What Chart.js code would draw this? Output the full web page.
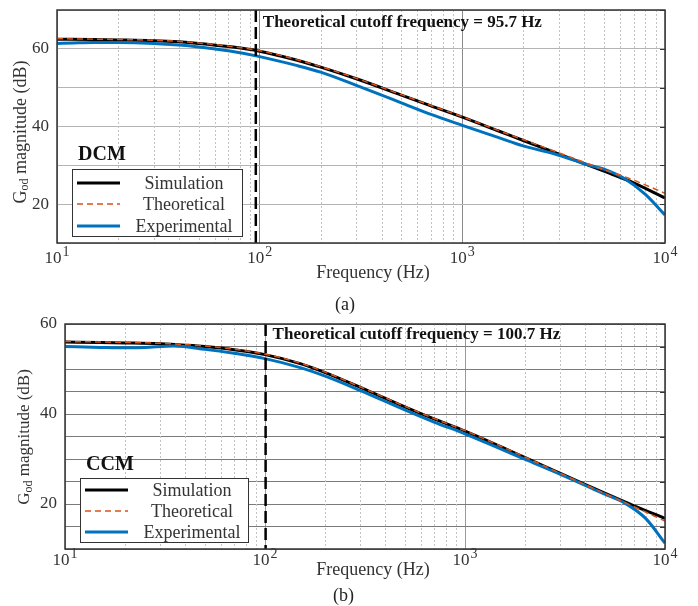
<!DOCTYPE html>
<html>
<head>
<meta charset="utf-8">
<script src="https://cdn.jsdelivr.net/npm/chart.js@4.4.1/dist/chart.umd.min.js"></script>
<style>
  html, body { margin: 0; padding: 0; background: #fff; }
  body { width: 698px; height: 606px; position: relative; overflow: hidden; }
  canvas { position: absolute; left: 0; }
  .cap { position: absolute; font-family: 'Liberation Serif', 'Times New Roman', serif; font-size: 18px; line-height: 18px; color: #222; }
</style>
</head>
<body>
<canvas id="dcm" width="698" height="290" style="top:0"></canvas>
<canvas id="ccm" width="698" height="300" style="top:300px"></canvas>
<div class="cap" style="left:335px;top:295px">(a)</div>
<div class="cap" style="left:333px;top:586px">(b)</div>
<script>
// decade ticks of the frequency axis
const xDecades = [10, 100, 1000, 10000]
const yLabels = [20, 40, 60]
const seriesNames = ['Simulation', 'Theoretical', 'Experimental']

// (a) DCM
const dcmFreq = [10, 15, 20, 30, 40, 50, 70, 100, 150, 200, 300, 500, 700, 1000, 1500, 2000, 3000, 5000, 7000, 10000]
const dcmSim = [62.5, 62.4, 62.3, 62.1, 61.8, 61.4, 60.6, 59.4, 57.2, 55.3, 52.3, 48.1, 45.3, 42.4, 38.9, 36.4, 32.9, 28.5, 25.5, 21.6]
const dcmTheo = [62.6, 62.5, 62.4, 62.2, 61.9, 61.5, 60.7, 59.5, 57.3, 55.4, 52.4, 48.2, 45.4, 42.5, 39.0, 36.6, 33.2, 28.9, 26.2, 22.8]
const dcmExpFreq = [10, 12, 15, 20, 30, 40, 50, 70, 100, 150, 200, 300, 500, 700, 1000, 1500, 2000, 3000, 4000, 5000, 6300, 8000, 10000]
const dcmExp = [61.4, 61.5, 61.6, 61.6, 61.4, 61.0, 60.5, 59.5, 58.0, 55.8, 54.0, 50.6, 46.1, 43.1, 40.3, 37.2, 35.0, 32.6, 30.4, 29.0, 26.6, 22.5, 17.2]

// (b) CCM
const ccmFreq = [10, 15, 20, 30, 40, 50, 70, 100, 150, 200, 300, 500, 700, 1000, 1500, 2000, 3000, 5000, 7000, 10000]
const ccmSim = [56.0, 55.9, 55.8, 55.6, 55.3, 55.0, 54.3, 53.2, 51.2, 49.2, 45.9, 41.6, 38.9, 36.2, 32.8, 30.3, 26.8, 22.4, 19.6, 16.8]
const ccmTheo = [56.1, 56.0, 55.9, 55.7, 55.4, 55.1, 54.4, 53.3, 51.3, 49.3, 46.0, 41.7, 39.0, 36.3, 32.9, 30.4, 26.8, 22.3, 19.4, 16.2]
const ccmExpFreq = [10, 15, 20, 25, 35, 50, 70, 100, 150, 200, 300, 500, 700, 1000, 2000, 3000, 5000, 6300, 8000, 10000]
const ccmExp = [55.0, 54.8, 54.7, 54.8, 55.1, 54.4, 53.5, 52.3, 50.3, 48.4, 45.2, 40.9, 38.2, 35.6, 29.9, 26.6, 22.2, 20.2, 16.8, 11.3]

const serif = "'Liberation Serif', 'Times New Roman', serif"
Chart.defaults.font.family = serif

function points(freqs, vals) {
  return freqs.map((f, i) => ({ x: f, y: vals[i] }))
}

function decor(o) {
  return {
    id: 'decor',
    beforeDatasetsDraw(chart) {
      const { ctx, chartArea: a, scales: { x } } = chart
      ctx.save()
      // dotted minor grid of the log axis
      ctx.strokeStyle = '#c2c2c2'
      ctx.lineWidth = 1
      ctx.setLineDash([2, 2])
      for (let d = 10; d < 10000; d *= 10) {
        for (let k = 2; k <= 9; k++) {
          const px = Math.round(x.getPixelForValue(d * k)) + 0.5
          ctx.beginPath()
          ctx.moveTo(px, a.top)
          ctx.lineTo(px, a.bottom)
          ctx.stroke()
        }
      }
      ctx.restore()
    },
    afterDraw(chart) {
      const { ctx, chartArea: a, scales: { x, y } } = chart
      ctx.save()

      // cutoff marker
      const cx = x.getPixelForValue(o.cutoff)
      ctx.strokeStyle = '#000'
      ctx.lineWidth = 2.5
      ctx.setLineDash([12, 5])
      ctx.beginPath()
      ctx.moveTo(cx, a.top)
      ctx.lineTo(cx, a.bottom)
      ctx.stroke()
      ctx.setLineDash([])

      // frame
      ctx.strokeStyle = '#333'
      ctx.lineWidth = 1.5
      ctx.strokeRect(a.left, a.top, a.right - a.left, a.bottom - a.top)
      ctx.lineWidth = 1
      y.ticks.forEach(t => {
        const py = Math.round(y.getPixelForValue(t.value)) + 0.5
        ctx.beginPath()
        ctx.moveTo(a.right - 5, py)
        ctx.lineTo(a.right, py)
        ctx.stroke()
      })

      ctx.fillStyle = '#111'
      ctx.textBaseline = 'alphabetic'
      ctx.textAlign = 'left'
      ctx.font = `bold 17px ${serif}`
      ctx.fillText(o.cutoffText, cx + 7, o.noteY)
      ctx.font = `bold 20px ${serif}`
      ctx.fillText(o.mode, o.modeX, o.modeY)

      // legend
      const L = o.legend
      ctx.fillStyle = '#fff'
      ctx.fillRect(L.x, L.y, L.w, L.h)
      ctx.strokeStyle = '#333'
      ctx.lineWidth = 1
      ctx.strokeRect(L.x + 0.5, L.y + 0.5, L.w, L.h)
      ctx.font = `18px ${serif}`
      ctx.textAlign = 'center'
      ctx.textBaseline = 'middle'
      chart.data.datasets.forEach((ds, i) => {
        const ry = L.y + L.rows[i]
        ctx.strokeStyle = ds.borderColor
        ctx.lineWidth = ds.borderWidth
        ctx.setLineDash(ds.borderDash || [])
        ctx.beginPath()
        ctx.moveTo(L.x + 5, ry)
        ctx.lineTo(L.x + 48, ry)
        ctx.stroke()
        ctx.setLineDash([])
        ctx.fillStyle = '#333'
        ctx.fillText(ds.label, L.x + 112, ry + 1)
      })

      // frequency tick labels 10^n
      ctx.fillStyle = '#333'
      ctx.textAlign = 'left'
      ctx.textBaseline = 'alphabetic'
      xDecades.forEach(v => {
        const px = x.getPixelForValue(v)
        const e = String(Math.round(Math.log10(v)))
        ctx.font = `17px ${serif}`
        const wb = ctx.measureText('10').width
        ctx.font = `14px ${serif}`
        const we = ctx.measureText(e).width
        const sx = px - (wb + we + 1) / 2
        ctx.font = `17px ${serif}`
        ctx.fillText('10', sx, o.tickY)
        ctx.font = `14px ${serif}`
        ctx.fillText(e, sx + wb + 1, o.tickY - 7)
      })

      ctx.font = `18px ${serif}`
      ctx.textAlign = 'center'
      ctx.fillText('Frequency (Hz)', 373, o.xTitleY)

      // y title with subscript
      ctx.translate(o.yTitleX, o.yTitleY)
      ctx.rotate(-Math.PI / 2)
      ctx.textAlign = 'left'
      ctx.textBaseline = 'middle'
      const big = `${o.yFont}px ${serif}`
      const small = `${Math.round(o.yFont * 0.68)}px ${serif}`
      ctx.font = big
      const wG = ctx.measureText('G').width
      const rest = ' magnitude (dB)'
      const wR = ctx.measureText(rest).width
      ctx.font = small
      const wS = ctx.measureText('od').width
      let sx = -(wG + wS + wR) / 2
      ctx.font = big
      ctx.fillText('G', sx, 0)
      ctx.font = small
      ctx.fillText('od', sx + wG, 4)
      ctx.font = big
      ctx.fillText(rest, sx + wG + wS, 0)
      ctx.restore()
    }
  }
}

function makeChart(id, o) {
  return new Chart(document.getElementById(id), {
    type: 'line',
    data: {
      datasets: [
        { label: seriesNames[0], data: points(o.freq, o.sim), borderColor: '#000000', borderWidth: 3, order: 2 },
        { label: seriesNames[1], data: points(o.freq, o.theo), borderColor: '#D95319', borderWidth: 1.5, borderDash: [6, 4], order: 0 },
        { label: seriesNames[2], data: points(o.expFreq, o.exp), borderColor: '#0072BD', borderWidth: 3, order: 1 }
      ]
    },
    options: {
      responsive: false,
      animation: false,
      elements: {
        point: { radius: 0 },
        line: { cubicInterpolationMode: 'monotone', fill: false }
      },
      layout: { padding: { top: o.top, right: 33, left: 0, bottom: 0 } },
      plugins: { legend: { display: false }, tooltip: { enabled: false } },
      scales: {
        x: {
          type: 'logarithmic',
          min: 10,
          max: 10000,
          afterBuildTicks: s => { s.ticks = xDecades.map(v => ({ value: v })) },
          afterFit: s => {
            s.height = o.height - o.bottom
            s.paddingLeft = 0
            s.paddingRight = 0
          },
          ticks: { display: false },
          grid: { color: o.majorColor, drawTicks: false },
          border: { display: false }
        },
        y: {
          min: o.yMin,
          max: o.yMax,
          ticks: {
            stepSize: o.yStep,
            autoSkip: false,
            padding: 8,
            color: '#333',
            font: { size: 17 },
            callback: v => yLabels.includes(v) ? String(v) : ''
          },
          afterFit: s => {
            s.width = o.left
            s.paddingTop = 0
            s.paddingBottom = 0
          },
          grid: { color: o.gridColor, drawTicks: false },
          border: { display: false }
        }
      }
    },
    plugins: [decor(o)]
  })
}

makeChart('dcm', {
  freq: dcmFreq, sim: dcmSim, theo: dcmTheo, expFreq: dcmExpFreq, exp: dcmExp,
  height: 290, left: 57, top: 10, bottom: 243,
  yMin: 10, yMax: 70, yStep: 10,
  gridColor: '#b4b4b4', majorColor: '#8a8a8a',
  cutoff: 95.7, cutoffText: 'Theoretical cutoff frequency = 95.7 Hz', noteY: 27,
  mode: 'DCM', modeX: 78, modeY: 160,
  legend: { x: 72, y: 169, w: 170, h: 67, rows: [14, 35, 57] },
  tickY: 263, xTitleY: 278, yTitleX: 21, yTitleY: 132, yFont: 18
})

makeChart('ccm', {
  freq: ccmFreq, sim: ccmSim, theo: ccmTheo, expFreq: ccmExpFreq, exp: ccmExp,
  height: 300, left: 65, top: 24, bottom: 249,
  yMin: 10, yMax: 60, yStep: 5,
  gridColor: '#7a7a7a', majorColor: '#9a9a9a',
  cutoff: 100.7, cutoffText: 'Theoretical cutoff frequency = 100.7 Hz', noteY: 39,
  mode: 'CCM', modeX: 86, modeY: 170,
  legend: { x: 80, y: 178, w: 168, h: 64, rows: [12, 33, 54] },
  tickY: 265, xTitleY: 275, yTitleX: 25, yTitleY: 137, yFont: 17
})
</script>
</body>
</html>
